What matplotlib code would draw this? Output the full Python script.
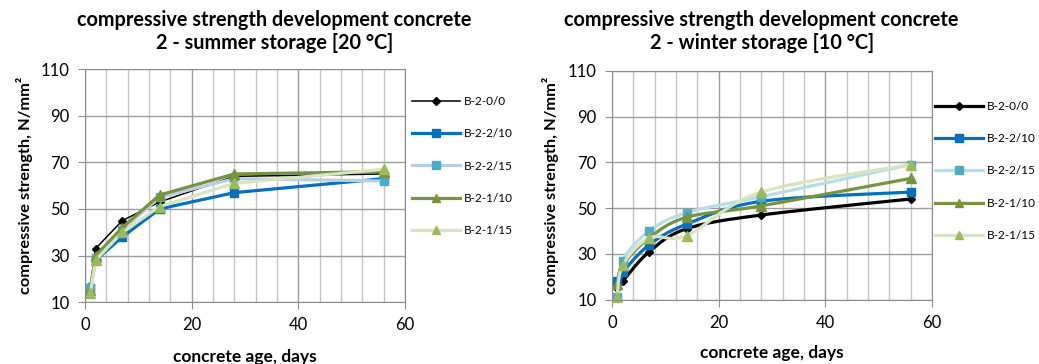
import numpy as np
import matplotlib
matplotlib.use("Agg")
import matplotlib.pyplot as plt
from matplotlib.lines import Line2D
from matplotlib.ticker import MultipleLocator

plt.rcParams['font.family'] = ['Lato', 'DejaVu Sans']

# concrete age, days
days = [1, 2, 7, 14, 28, 56]
names = ["B-2-0/0", "B-2-2/10", "B-2-2/15", "B-2-1/10", "B-2-1/15"]

# summer storage [20 °C], N/mm²
summer_b00 = [17, 33, 45, 53, 64, 65]
summer_b2_10 = [16, 28, 38, 50, 57, 63]
summer_b2_15 = [16, 29, 41, 55, 63, 62]
summer_b1_10 = [15, 30, 42, 56, 65, 66]
summer_b1_15 = [14, 28, 40, 51, 61, 67]

# winter storage [10 °C], N/mm²
winter_b00 = [15, 18, 31, 41, 47, 54]
winter_b2_10 = [18, 22, 34, 43, 53, 57]
winter_b2_15 = [11, 27, 40, 48, 55, 69]
winter_b1_10 = [17, 25, 37, 46, 51, 63]
winter_b1_15 = [11, 25, 37, 38, 57, 69]

title_summer = "compressive strength development concrete\n2 - summer storage [20 °C]"
title_winter = "compressive strength development concrete\n2 - winter storage [10 °C]"


def smooth(x, y, n=30):
    # excel style smoothed line: catmull-rom through the points as bezier
    x = np.asarray(x, float)
    y = np.asarray(y, float)
    m = len(x)
    t = np.linspace(0, 1, n)
    ox, oy = [], []
    for i in range(m - 1):
        i0 = max(i - 1, 0)
        i3 = min(i + 2, m - 1)
        c1x = x[i] + (x[i + 1] - x[i0]) / 6
        c1y = y[i] + (y[i + 1] - y[i0]) / 6
        c2x = x[i + 1] - (x[i3] - x[i]) / 6
        c2y = y[i + 1] - (y[i3] - y[i]) / 6
        ox.append((1-t)**3*x[i] + 3*(1-t)**2*t*c1x + 3*(1-t)*t**2*c2x + t**3*x[i+1])
        oy.append((1-t)**3*y[i] + 3*(1-t)**2*t*c1y + 3*(1-t)*t**2*c2y + t**3*y[i+1])
    return np.concatenate(ox), np.concatenate(oy)


def setup(ax, title, tx):
    ax.set_xlim(0, 60)
    ax.set_ylim(10, 110)
    ax.xaxis.set_major_locator(MultipleLocator(20))
    ax.xaxis.set_minor_locator(MultipleLocator(4))
    ax.set_yticks(range(10, 111, 20))
    ax.grid(which='major', color='#9c9c9c', lw=1)
    ax.grid(which='minor', axis='x', color='#c4c4c4', lw=1)
    ax.set_axisbelow(True)
    for s in ax.spines.values():
        s.set_color('#8c8c8c')
    ax.tick_params(which='major', length=5, color='#8c8c8c', labelsize=12)
    ax.tick_params(axis='y', pad=6)
    ax.tick_params(axis='x', pad=6)
    ax.tick_params(which='minor', length=0)
    ax.set_xlabel("concrete age, days", fontsize=12.5, fontweight='bold')
    ax.xaxis.set_label_coords(0.5, -0.235)
    ax.xaxis.label.set_va('center')
    ax.set_ylabel("compressive strength, N/mm²", fontsize=11.8, fontweight='bold',
                  labelpad=6)
    fig.text(tx, 0.972, title, ha='center', va='top', fontsize=14.3,
             fontweight='bold', linespacing=1.2)


fig = plt.figure(figsize=(10.39, 3.64), dpi=100)
ax1 = fig.add_axes([0.0818, 0.170, 0.308, 0.640])
ax2 = fig.add_axes([0.589, 0.177, 0.308, 0.628])

# left: straight lines
styles_summer = [
    dict(color='#000000', lw=1.1, marker='D', ms=4.5, mfc='#000000', mec='#000000'),
    dict(color='#0070C0', lw=2.3, marker='s', ms=6.3, mfc='#0070C0', mec='#0070C0'),
    dict(color='#B9CDE5', lw=2.3, marker='s', ms=6.3, mfc='#4BACC6', mec='#4BACC6'),
    dict(color='#77933C', lw=2.3, marker='^', ms=7, mfc='#77933C', mec='#77933C'),
    dict(color='#D7E4BD', lw=2.3, marker='^', ms=7, mfc='#9BBB59', mec='#9BBB59'),
]
summer = [summer_b00, summer_b2_10, summer_b2_15, summer_b1_10, summer_b1_15]
for vals, name, st in zip(summer, names, styles_summer):
    ax1.plot(days, vals, label=name, clip_on=False, **st)

# right: smoothed lines
styles_winter = [
    dict(color='#000000', lw=2.3, marker='D', ms=4.5, mfc='#000000', mec='#000000'),
    dict(color='#0070C0', lw=2.3, marker='s', ms=6.3, mfc='#0070C0', mec='#0070C0'),
    dict(color='#B7DEE8', lw=2.3, marker='s', ms=6.3, mfc='#4BACC6', mec='#4BACC6'),
    dict(color='#77933C', lw=2.3, marker='^', ms=7, mfc='#77933C', mec='#77933C'),
    dict(color='#D7E4BD', lw=2.3, marker='^', ms=7, mfc='#9BBB59', mec='#9BBB59'),
]
winter = [winter_b00, winter_b2_10, winter_b2_15, winter_b1_10, winter_b1_15]
handles = []
for vals, name, st in zip(winter, names, styles_winter):
    sx, sy = smooth(days, vals)
    ax2.plot(sx, sy, color=st['color'], lw=st['lw'], clip_on=False)
    ax2.plot(days, vals, ls='none', marker=st['marker'], ms=st['ms'],
             mfc=st['mfc'], mec=st['mec'], clip_on=False)
    handles.append(Line2D([], [], label=name, **st))

setup(ax1, title_summer, 0.264)
setup(ax2, title_winter, 0.733)

leg_kw = dict(loc='upper left', frameon=False, fontsize=8.5, handlelength=4.1,
              handletextpad=0.3, labelspacing=1.8, borderpad=0, borderaxespad=0,
              bbox_transform=fig.transFigure, markerscale=0.85)
ax1.legend(bbox_to_anchor=(412 / 1039, 1 - 96 / 364), **leg_kw)
ax2.legend(handles=handles, bbox_to_anchor=(935 / 1039, 1 - 101 / 364), **leg_kw)

fig.savefig("out.png", dpi=100, facecolor='white')
